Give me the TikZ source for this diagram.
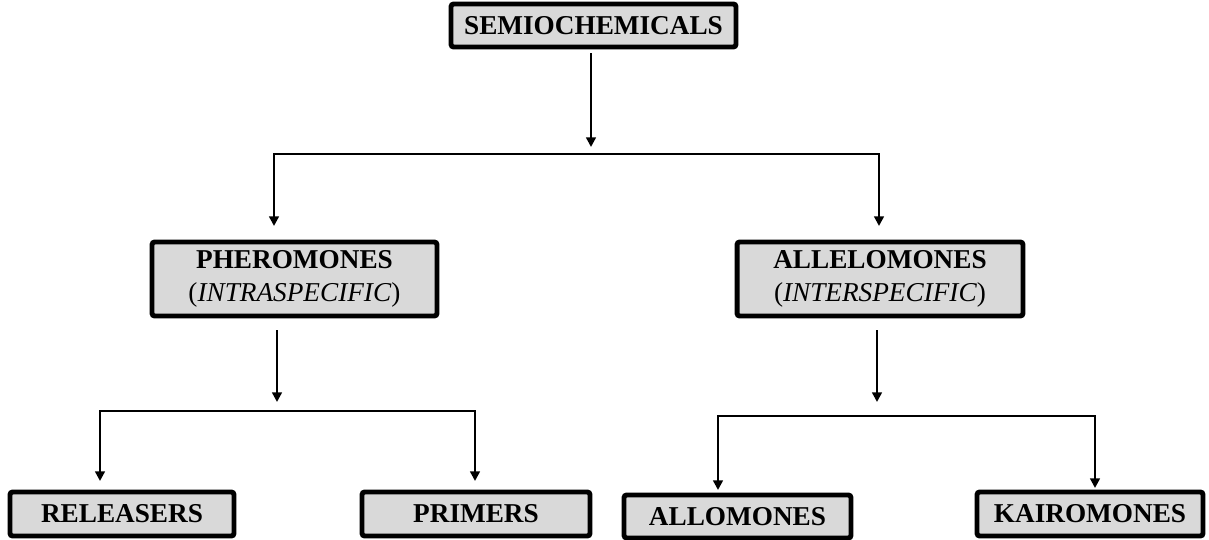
\documentclass[tikz,border=0pt]{standalone}
\usepackage{fontspec}
\setmainfont{Liberation Serif}
\usetikzlibrary{arrows.meta}

\definecolor{boxgray}{RGB}{217,217,217}

\tikzset{
	box/.style = {draw, line width = 2.8pt, fill = boxgray, rounded corners = 1.5pt,
		inner sep = 0pt, align = center, font = \bfseries\fontsize{15.5}{18.8}\selectfont},
	link/.style = {line width = 1.35pt, -{Triangle[width = 5.5pt, length = 5.5pt]}},
	fork/.style = {line width = 1.35pt, {Triangle[width = 5.5pt, length = 5.5pt]}-{Triangle[width = 5.5pt, length = 5.5pt]}}
}

\begin{document}
\begin{tikzpicture}[x = 0.02cm, y = -0.02cm]
	\useasboundingbox (0,0) rectangle (1209,540);

	% top level
	\node[box, minimum width = 5.7cm, minimum height = 0.86cm] (semio) at (593.5, 25.5) {SEMIOCHEMICALS};

	\coordinate (semioTip) at (591, 147);
	\coordinate (semioBarL) at (274, 154);
	\coordinate (semioBarR) at (879, 154);
	\coordinate (pheroTip) at (274, 226);
	\coordinate (alleloTip) at (879, 226);

	\draw[link] (semio.south -| semioTip) ++(0,4) -- (semioTip);
	\draw[fork] (pheroTip) -- (semioBarL) -- (semioBarR) -- (alleloTip);

	% second level
	\node[box, minimum width = 5.7cm, minimum height = 1.48cm] (phero) at (294.5, 279)
		{PHEROMONES\\\textnormal{(\textit{INTRASPECIFIC})}};
	\node[box, minimum width = 5.72cm, minimum height = 1.48cm] (allelo) at (880, 279)
		{ALLELOMONES\\\textnormal{(\textit{INTERSPECIFIC})}};

	% pheromones branch
	\coordinate (pheroDown) at (277, 402);
	\coordinate (pheroBarL) at (100, 411);
	\coordinate (pheroBarR) at (475, 411);
	\coordinate (relTip) at (100, 481);
	\coordinate (primTip) at (475, 481);

	\draw[link] (phero.south -| pheroDown) ++(0,12) -- (pheroDown);
	\draw[fork] (relTip) -- (pheroBarL) -- (pheroBarR) -- (primTip);

	% allelomones branch
	\coordinate (alleloDown) at (877, 402);
	\coordinate (alleloBarL) at (718, 416);
	\coordinate (alleloBarR) at (1095, 416);
	\coordinate (alloTip) at (718, 490);
	\coordinate (kairoTip) at (1095, 488);

	\draw[link] (allelo.south -| alleloDown) ++(0,12) -- (alleloDown);
	\draw[fork] (alloTip) -- (alleloBarL) -- (alleloBarR) -- (kairoTip);

	% bottom level
	\node[box, minimum width = 4.48cm, minimum height = 0.88cm] (releasers) at (122, 514) {RELEASERS};
	\node[box, minimum width = 4.56cm, minimum height = 0.88cm] (primers) at (476, 514) {PRIMERS};
	\node[box, minimum width = 4.54cm, minimum height = 0.86cm] (allomones) at (737.5, 516.5) {ALLOMONES};
	\node[box, minimum width = 4.52cm, minimum height = 0.88cm] (kairomones) at (1090, 514) {KAIROMONES};
\end{tikzpicture}
\end{document}
